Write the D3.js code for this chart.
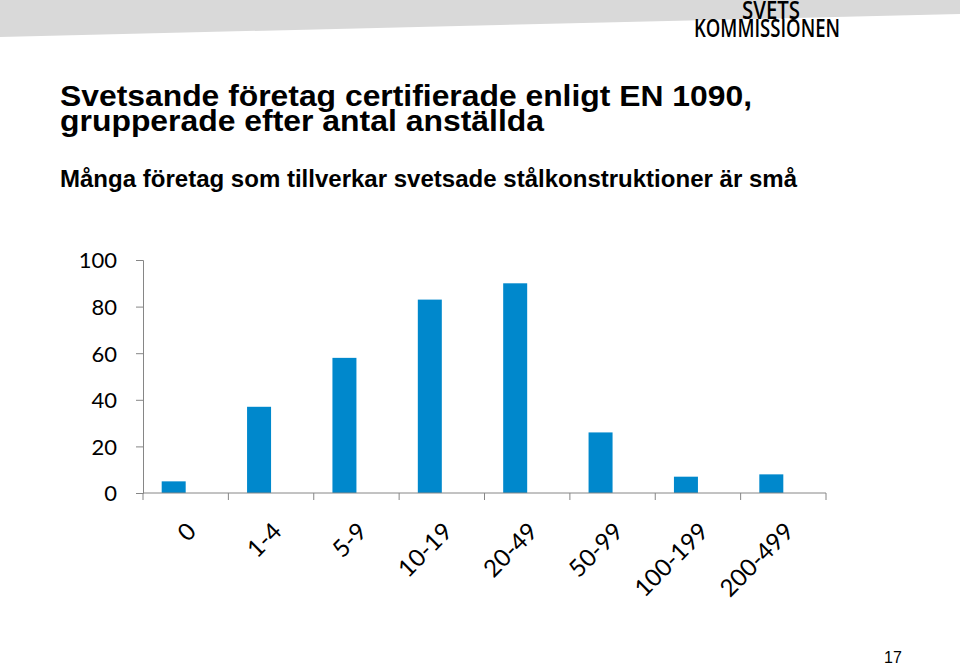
<!DOCTYPE html>
<html>
<head>
<meta charset="utf-8">
<script src="https://cdn.jsdelivr.net/npm/d3@7"></script>
<style>
  html, body { margin: 0; padding: 0; background: #fff; }
  svg { display: block; }
</style>
</head>
<body>
<svg id="chart" width="960" height="666"></svg>
<script>
// ---- data ----
const categories = ["0", "1-4", "5-9", "10-19", "20-49", "50-99", "100-199", "200-499"];
const seriesKeys = ["Antal företag", "(tom)"];
const values = [5, 37, 58, 83, 90, 26, 7, 8];
const yTicks = [0, 20, 40, 60, 80, 100];
const titleLines = ["Svetsande företag certifierade enligt EN 1090,", "grupperade efter antal anställda"];
const subtitle = "Många företag som tillverkar svetsade stålkonstruktioner är små";
const logoLines = ["SVETS", "KOMMISSIONEN"];
const pageNumber = "17";

const svg = d3.select("#chart");

// header band
svg.append("path")
  .attr("d", "M0,0 L960,0 L960,14 L0,37 Z")
  .attr("fill", "#d9d9d9");

// logo
svg.append("text").text(logoLines[0])
  .attr("x", 742).attr("y", 19)
  .attr("textLength", 58).attr("lengthAdjust", "spacingAndGlyphs")
  .attr("font-family", "Open Sans").attr("font-weight", 600).attr("font-size", 25)
  .attr("fill", "#000");
svg.append("text").text(logoLines[1])
  .attr("x", 694).attr("y", 37)
  .attr("textLength", 146).attr("lengthAdjust", "spacingAndGlyphs")
  .attr("font-family", "Open Sans").attr("font-weight", 600).attr("font-size", 25)
  .attr("fill", "#000");

// titles
const titleW = [692, 484];
titleLines.forEach((t, i) => {
  svg.append("text").text(t)
    .attr("x", 60).attr("y", 106 + i * 25)
    .attr("textLength", titleW[i]).attr("lengthAdjust", "spacingAndGlyphs")
    .attr("font-family", "Liberation Sans, Arial, sans-serif")
    .attr("font-weight", "bold").attr("font-size", 30)
    .attr("fill", "#000");
});
svg.append("text").text(subtitle)
  .attr("x", 60).attr("y", 187)
  .attr("textLength", 737).attr("lengthAdjust", "spacingAndGlyphs")
  .attr("font-family", "Liberation Sans, Arial, sans-serif")
  .attr("font-weight", "bold").attr("font-size", 24)
  .attr("fill", "#000");

// chart
const x0 = 143, x1 = 826, yTop = 260, yBot = 493;
const x = d3.scaleBand().domain(categories).range([x0, x1]).paddingInner(0).paddingOuter(0);
const clusterW = 48;
const xi = d3.scaleBand().domain(seriesKeys).range([-clusterW / 2, clusterW / 2]);
const y = d3.scaleLinear().domain([0, 100]).range([yBot, yTop]);

const axisColor = "#868686";

// y axis
const gy = svg.append("g").attr("transform", `translate(${x0},0)`)
  .call(d3.axisLeft(y).tickValues(yTicks).tickSize(7).tickPadding(19));
gy.select(".domain").attr("stroke", axisColor);
gy.selectAll(".tick line").attr("stroke", axisColor);
gy.selectAll(".tick text")
  .attr("font-family", "Lato, 'Open Sans', sans-serif")
  .attr("font-size", 22).attr("fill", "#000").attr("dy", "0.36em");

// bars
svg.append("g").selectAll("rect").data(values).join("rect")
  .attr("x", (d, i) => x(categories[i]) + x.bandwidth() / 2 + xi(seriesKeys[0]))
  .attr("width", xi.bandwidth())
  .attr("y", d => y(d))
  .attr("height", d => y(0) - y(d))
  .attr("fill", "#0088cc");

// x axis
const gx = svg.append("g").attr("transform", `translate(0,${yBot})`);
gx.append("line").attr("x1", x0).attr("x2", x1).attr("stroke", axisColor);
const bounds = categories.map(c => x(c)).concat([x1]);
gx.selectAll("line.tk").data(bounds).join("line").attr("class", "tk")
  .attr("x1", d => d).attr("x2", d => d).attr("y1", 0).attr("y2", 7)
  .attr("stroke", axisColor);
gx.selectAll("text").data(categories).join("text")
  .attr("transform", d => `translate(${x(d) + x.bandwidth() / 2 + 6},${34}) rotate(-45)`)
  .attr("text-anchor", "end")
  .attr("dy", "0.35em")
  .attr("font-family", "Lato, 'Open Sans', sans-serif")
  .attr("font-size", 24).attr("fill", "#000")
  .text(d => d);

// page number
svg.append("text").text(pageNumber)
  .attr("x", 884).attr("y", 663)
  .attr("font-family", "Liberation Sans, Arial, sans-serif")
  .attr("font-size", 16).attr("fill", "#000");
</script>
</body>
</html>
